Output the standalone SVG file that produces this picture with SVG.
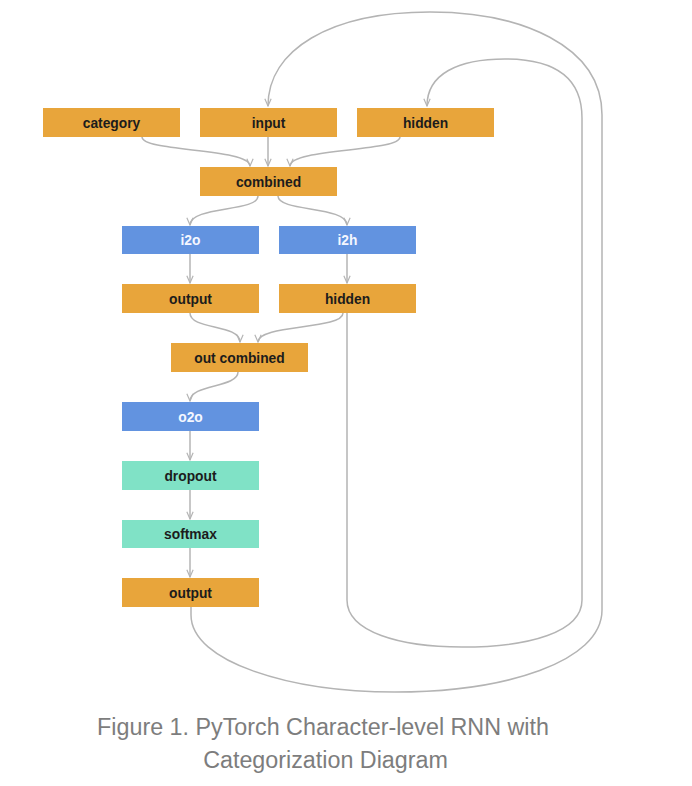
<svg xmlns="http://www.w3.org/2000/svg" width="692" height="786" viewBox="0 0 692 786">
<style>
.box rect{stroke:none}
.or rect{fill:#E8A53B}
.bl rect{fill:#6293E0}
.tl rect{fill:#80E2C6}
.box text{font-family:"Liberation Sans",Arial,sans-serif;font-weight:bold;font-size:13.8px;text-anchor:middle;fill:#1c1c1c}
.bl text{fill:#f4f7ff}
.c path{fill:none;stroke:#b4b4b4;stroke-width:1.5}
.cap{font-family:"Liberation Sans",Arial,sans-serif;font-size:23.3px;fill:#7d7d7d;text-anchor:middle}
</style>
<defs>
<marker id="ah" viewBox="0 0 10 10" refX="9" refY="5" markerWidth="9" markerHeight="9" markerUnits="userSpaceOnUse" orient="auto">
<path d="M1,1.5 L9,5 L1,8.5" fill="none" stroke="#b4b4b4" stroke-width="1.3"/>
</marker>
</defs>
<rect width="692" height="786" fill="#ffffff"/>
<g class="c">
<path d="M142,137 C142,152 250,148 250,166" marker-end="url(#ah)"/>
<path d="M268,137 L268,166" marker-end="url(#ah)"/>
<path d="M400,137 C400,152 290,148 290,166" marker-end="url(#ah)"/>
<path d="M258,196 C258,212 190,206 190,225" marker-end="url(#ah)"/>
<path d="M278,196 C278,212 347,206 347,225" marker-end="url(#ah)"/>
<path d="M190,254 L190,283" marker-end="url(#ah)"/>
<path d="M347,254 L347,283" marker-end="url(#ah)"/>
<path d="M190,313 C190,330 240,324 240,342" marker-end="url(#ah)"/>
<path d="M343,313 C343,330 258,324 258,342" marker-end="url(#ah)"/>
<path d="M238,372 C238,388 190,384 190,401" marker-end="url(#ah)"/>
<path d="M190,431 L190,460" marker-end="url(#ah)"/>
<path d="M190,490 L190,519" marker-end="url(#ah)"/>
<path d="M190,548 L190,577" marker-end="url(#ah)"/>
<path d="M347,313 L347,600 C347,632 400,647 462,647 C530,647 582,632 582,600 L582,118 C582,78 555,59 505,59 C458,59 427,74 427,106" marker-end="url(#ah)"/>
<path d="M191,607 L191,615 C191,662 290,692 395,692 C505,692 602,662 602,610 L602,115 C602,45 520,12 430,12 C330,12 268,50 268,106" marker-end="url(#ah)"/>
</g>
<g id="category" class="box or"><rect x="43" y="108" width="137" height="29"/><text x="111.5" y="127.5">category</text></g>
<g id="input" class="box or"><rect x="200" y="108" width="137" height="29"/><text x="268.5" y="127.5">input</text></g>
<g id="hidden-in" class="box or"><rect x="357" y="108" width="137" height="29"/><text x="425.5" y="127.5">hidden</text></g>
<g id="combined" class="box or"><rect x="200" y="167" width="137" height="29"/><text x="268.5" y="186.5">combined</text></g>
<g id="i2o" class="box bl"><rect x="122" y="226" width="137" height="28"/><text x="190.5" y="245">i2o</text></g>
<g id="i2h" class="box bl"><rect x="279" y="226" width="137" height="28"/><text x="347.5" y="245">i2h</text></g>
<g id="output1" class="box or"><rect x="122" y="284" width="137" height="29"/><text x="190.5" y="303.5">output</text></g>
<g id="hidden-out" class="box or"><rect x="279" y="284" width="137" height="29"/><text x="347.5" y="303.5">hidden</text></g>
<g id="out-combined" class="box or"><rect x="171" y="343" width="137" height="29"/><text x="239.5" y="362.5">out combined</text></g>
<g id="o2o" class="box bl"><rect x="122" y="402" width="137" height="29"/><text x="190.5" y="421.5">o2o</text></g>
<g id="dropout" class="box tl"><rect x="122" y="461" width="137" height="29"/><text x="190.5" y="480.5">dropout</text></g>
<g id="softmax" class="box tl"><rect x="122" y="520" width="137" height="28"/><text x="190.5" y="539">softmax</text></g>
<g id="output2" class="box or"><rect x="122" y="578" width="137" height="29"/><text x="190.5" y="597.5">output</text></g>
<text class="cap" x="323" y="735">Figure 1. PyTorch Character-level RNN with</text>
<text class="cap" x="325.5" y="768">Categorization Diagram</text>
</svg>
